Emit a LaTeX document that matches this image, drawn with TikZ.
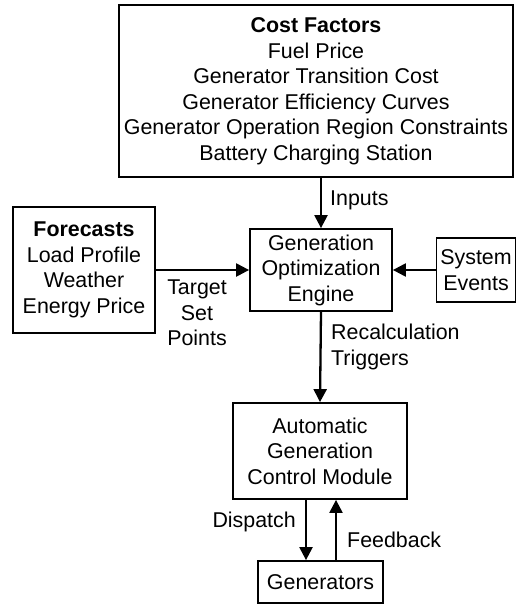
\documentclass[tikz,border=0pt]{standalone}
\usepackage{fontspec}
\setmainfont{Liberation Sans}
\usetikzlibrary{arrows.meta}
\begin{document}
\begin{tikzpicture}[x=1pt,y=-1pt,
  every node/.style={font=\fontsize{21.4}{25.5}\selectfont, inner sep=0pt},
  blk/.style={draw=black, line width=1.8pt, align=center, fill=white},
  lbl/.style={align=center},
  arr/.style={line width=2.3pt, -{Triangle[length=13pt,width=13pt]}}
]
\useasboundingbox[fill=white] (0,0) rectangle (520,605);

% boxes
\node[blk, minimum width=394pt, minimum height=172pt] (cost) at (316,91)
  {\textbf{Cost Factors}\\Fuel Price\\Generator Transition Cost\\Generator Efficiency Curves\\Generator Operation Region Constraints\\Battery Charging Station};
\node[blk, minimum width=142pt, minimum height=82pt] (gen) at (321,270)
  {Generation\\Optimization\\Engine};
\node[blk, minimum width=142pt, minimum height=126pt] (fc) at (84,270)
  {\textbf{Forecasts}\\Load Profile\\Weather\\Energy Price};
\node[blk, minimum width=79pt, minimum height=64pt] (sys) at (476,270)
  {System\\Events};
\node[blk, minimum width=174pt, minimum height=96pt] (agc) at (320,451)
  {Automatic\\Generation\\Control Module};
\node[blk, minimum width=125pt, minimum height=42pt] (gens) at (320.5,582)
  {Generators};

% connectors
\draw[arr] (cost.south -| gen.north) -- (gen.north);
\draw[arr] (fc.east) -- (gen.west);
\draw[arr] (sys.west) -- (gen.east);
\draw[arr] (gen.south) -- (agc.north);
\draw[arr] ([xshift=-14pt]agc.south) -- ([xshift=-14pt]agc.south |- gens.north);
\draw[arr] ([xshift=16pt]agc.south |- gens.north) -- ([xshift=16pt]agc.south);

% connector labels
\node[lbl, anchor=west] (lin) at (330,200) {Inputs};
\node[lbl] (ltsp) at (197,313) {Target\\Set\\Points};
\node[lbl, anchor=west, align=left] (lrec) at (331,347) {Recalculation\\Triggers};
\node[lbl, anchor=east] (ldis) at (296,522) {Dispatch};
\node[lbl, anchor=west] (lfb) at (347,540) {Feedback};
\end{tikzpicture}
\end{document}
